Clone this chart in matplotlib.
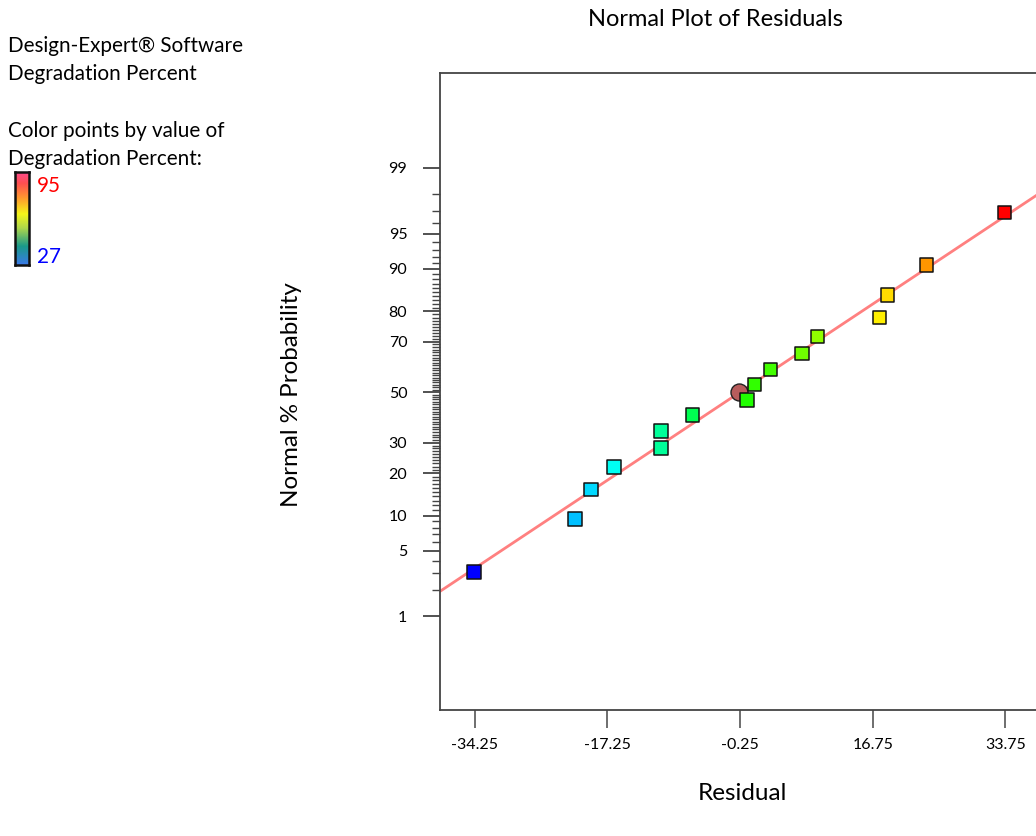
import matplotlib
matplotlib.use("Agg")
import matplotlib.pyplot as plt
import numpy as np
from matplotlib.colors import LinearSegmentedColormap
from statistics import NormalDist

plt.rcParams['font.family'] = ['Lato', 'DejaVu Sans']

# ---- data ----
residuals = [-34.33, -21.39, -19.34, -16.39, -10.37, -10.37, -6.31, 0.65, 1.63,
             3.68, 7.69, 9.65, 17.65, 18.67, 23.67, 33.66]
normal_pct = [3.125, 9.375, 15.625, 21.875, 28.125, 34.375, 40.625, 46.875, 53.125,
              59.375, 65.625, 71.875, 78.125, 84.375, 90.625, 96.875]
degradation = [27, 40.6, 43.3, 48, 52.8, 52.8, 58, 66.4, 67.5,
               68.5, 71.5, 73.6, 82.5, 83.7, 88.2, 95]
highlight_residual = [-0.38]
highlight_pct = [50.0]
line_center = -0.25
line_sd = 18.6
x_ticks = [-34.25, -17.25, -0.25, 16.75, 33.75]
x_tick_labels = ["-34.25", "-17.25", "-0.25", "16.75", "33.75"]
y_major = [1, 5, 10, 20, 30, 50, 70, 80, 90, 95, 99]
color_min, color_max = 27, 95

nd = NormalDist()
z = lambda p: nd.inv_cdf(p / 100.0)

W, H = 1036, 836
fig = plt.figure(figsize=(W / 100, H / 100), dpi=100)

ax_l, ax_r, ax_t, ax_b = 440, 1040, 73, 710
ax = fig.add_axes([ax_l / W, 1 - ax_b / H, (ax_r - ax_l) / W, (ax_b - ax_t) / H])

xmin = -0.25 - (740 - ax_l) / 7.806
xmax = -0.25 + (ax_r - 740) / 7.806
ax.set_xlim(xmin, xmax)
ax.set_ylim(-3.297, 3.311)

# fit line
xl = np.array([xmin, xmax])
ax.plot(xl, (xl - line_center) / line_sd, color='#ff8080', lw=2.0, zorder=2, clip_on=True)

pt_cmap = LinearSegmentedColormap.from_list('de', [
    (0.0, '#0000ff'), (0.2, '#00c0ff'), (0.3, '#00ffff'), (0.4, '#00ff80'),
    (0.55, '#00ff00'), (0.7, '#a0ff00'), (0.8, '#ffff00'), (0.9, '#ff9900'),
    (1.0, '#ff0000')])

zs = [z(p) for p in normal_pct]
ax.scatter(residuals, zs, c=degradation, cmap=pt_cmap, vmin=color_min, vmax=color_max,
           marker='s', s=95, edgecolors='#111111', linewidths=1.1, zorder=4)
ax.scatter(highlight_residual, [z(p) for p in highlight_pct], marker='o', s=150,
           color='#b85c5c', edgecolors='#222222', linewidths=1.0, zorder=3)

# ticks
ax.set_xticks(x_ticks)
ax.set_xticklabels(x_tick_labels)
ax.set_yticks([z(p) for p in y_major])
ax.set_yticklabels([str(p) for p in y_major])
minor = [z(p) for p in range(1, 100) if p not in y_major]
ax.set_yticks(minor, minor=True)
ax.tick_params(axis='x', which='major', direction='out', length=13, width=1.2,
               color='#555555', pad=7, labelsize=11.5)
ax.tick_params(axis='y', which='major', direction='out', length=12, width=1.2,
               color='#333333', pad=11.5, labelsize=11.5)
ax.tick_params(axis='y', which='minor', direction='out', length=6, width=1.0,
               color='#444444')
for s in ['left', 'bottom', 'top']:
    ax.spines[s].set_color('#444444')
    ax.spines[s].set_linewidth(1.3)
ax.spines['right'].set_visible(False)

# texts
fig.text(715 / W, 1 - 20 / H, 'Normal Plot of Residuals', ha='center', va='center', fontsize=17)
fig.text(742 / W, 1 - 793 / H, 'Residual', ha='center', va='center', fontsize=17.5)
fig.text(291 / W, 1 - 395 / H, 'Normal % Probability', ha='center', va='center',
         rotation=90, fontsize=17.4)

fs = 14.9
fig.text(8 / W, 1 - 46 / H, 'Design-Expert® Software', ha='left', va='center', fontsize=fs)
fig.text(8 / W, 1 - 74 / H, 'Degradation Percent', ha='left', va='center', fontsize=fs)
fig.text(8 / W, 1 - 131 / H, 'Color points by value of', ha='left', va='center', fontsize=fs)
fig.text(8 / W, 1 - 159 / H, 'Degradation Percent:', ha='left', va='center', fontsize=fs)
fig.text(37 / W, 1 - 186 / H, str(color_max), ha='left', va='center', fontsize=fs, color='#ff0000')
fig.text(37 / W, 1 - 257 / H, str(color_min), ha='left', va='center', fontsize=fs, color='#0000ff')

leg_cmap = LinearSegmentedColormap.from_list('leg', [
    (0.0, '#3a7ae8'), (0.2, '#1a9a8a'), (0.4, '#b0d84a'), (0.55, '#f5f51a'),
    (0.72, '#ff9a2e'), (0.88, '#ff5050'), (1.0, '#ff4a8c')])
cax = fig.add_axes([15 / W, 1 - 265 / H, 14 / W, 93 / H])
cax.imshow(np.linspace(1, 0, 200).reshape(-1, 1), aspect='auto', cmap=leg_cmap,
           extent=[0, 1, 0, 1])
cax.set_xticks([]); cax.set_yticks([])
for s in cax.spines.values():
    s.set_linewidth(1.8)
    s.set_color('#111111')

fig.savefig('out.png', dpi=100)
